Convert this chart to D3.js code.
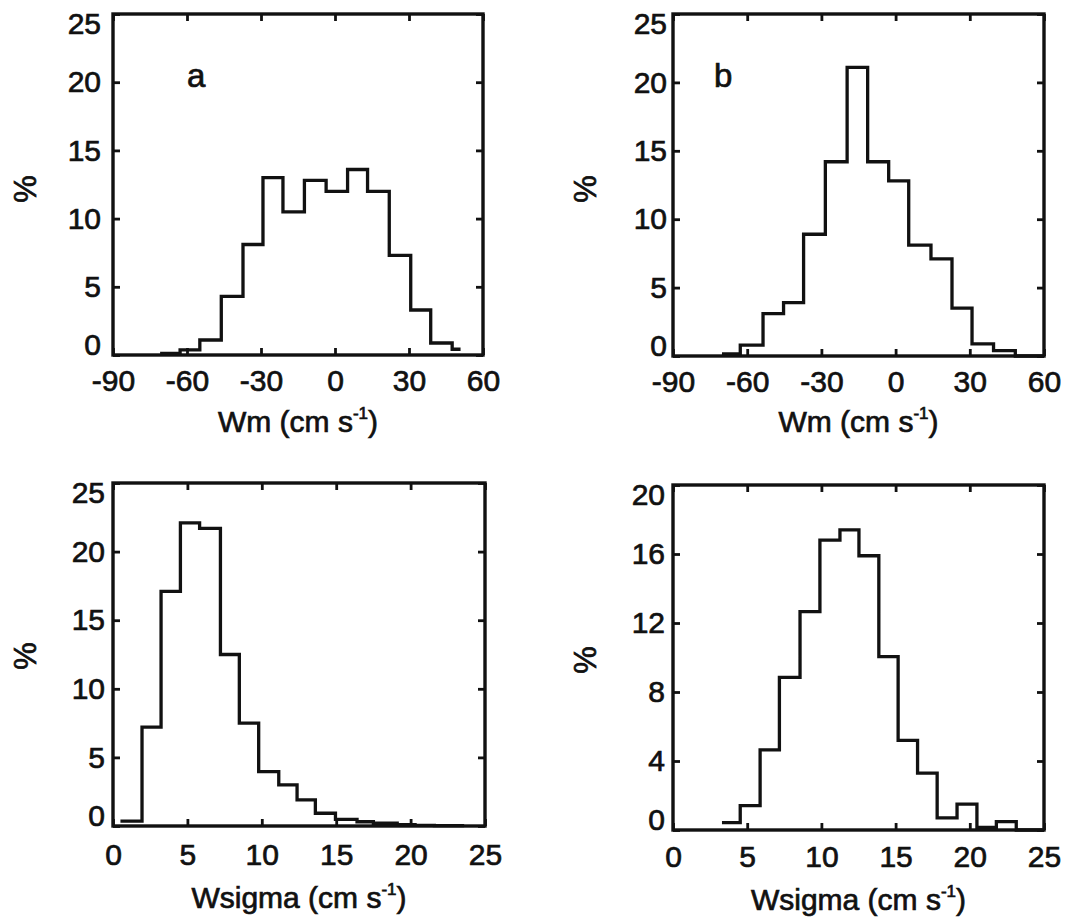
<!DOCTYPE html>
<html><head><meta charset="utf-8">
<script src="https://cdn.jsdelivr.net/npm/d3@7"></script>
<style>
body{margin:0;background:#fff}
svg{display:block}
text{font-family:"Liberation Sans",Arial,Helvetica,sans-serif;fill:#111;stroke:#111;stroke-width:0.7px}
</style>
</head><body>
<svg id="chart" width="1068" height="920"></svg>
<script>
// ---------- data ----------
const wmTicks = [-90, -60, -30, 0, 30, 60];
const wsTicks = [0, 5, 10, 15, 20, 25];
const pctTicks25 = [0, 5, 10, 15, 20, 25];
const pctTicks20 = [0, 4, 8, 12, 16, 20];

// panel a : Wm histogram (bin edges in cm/s, percentages)
const aEdges = [-70.9, -62.8, -54.8, -46.1, -37.3, -29.2, -21.1, -12.4, -3.6, 5.1, 13.2, 22.0, 30.7, 38.8, 47.5, 50.9];
const aPct   = [0.12, 0.37, 1.1, 4.3, 8.1, 13.0, 10.5, 12.8, 12.0, 13.6, 12.0, 7.3, 3.3, 0.88, 0.42];

// panel b : Wm histogram
const bEdges = [-70.2, -62.8, -53.6, -45.3, -37.2, -28.4, -19.6, -11.3, -2.8, 5.3, 14.3, 22.8, 30.9, 39.6, 48.4, 60];
const bPct   = [0.15, 0.8, 3.1, 3.9, 8.9, 14.2, 21.1, 14.2, 12.8, 8.1, 7.1, 3.5, 0.88, 0.39, 0];

// panel c : Wsigma histogram
const cEdges = [0.5, 1.95, 3.23, 4.53, 5.82, 7.22, 8.49, 9.79, 11.14, 12.37, 13.6, 14.95, 16.4, 17.5, 19.1, 20.3, 21.6, 23.6];
const cPct   = [0.36, 7.2, 17.1, 22.1, 21.7, 12.5, 7.5, 3.97, 3.0, 1.9, 0.93, 0.49, 0.31, 0.2, 0.1, 0.05, 0.03];

// panel d : Wsigma histogram
const dEdges = [3.30, 4.53, 5.87, 7.17, 8.56, 9.90, 11.25, 12.53, 13.87, 15.17, 16.48, 17.8, 19.14, 20.48, 21.79, 23.13, 25];
const dPct   = [0.43, 1.41, 4.64, 8.85, 12.66, 16.8, 17.4, 15.9, 10.05, 5.2, 3.3, 0.7, 1.5, 0.15, 0.48, 0];

const panelLetters = ["a", "b", "", ""];
const xTitles = ["Wm", "Wm", "Wsigma", "Wsigma"];
const yTitle = "%";

// ---------- layout ----------
const svg = d3.select("#chart");
const FONT = 30;

const panels = [
  {edges: aEdges, pct: aPct, xDom: [-90, 60], xT: wmTicks, yDom: [0, 25], yT: pctTicks25,
   box: {x0: 113, x1: 483, y0: 14, y1: 355}, yPad: 12, xPad: 15, letter: panelLetters[0], title: xTitles[0],
   letterPos: [187, 87], yLab: [25, 189], xLabY: 432},
  {edges: bEdges, pct: bPct, xDom: [-90, 60], xT: wmTicks, yDom: [0, 25], yT: pctTicks25,
   box: {x0: 673, x1: 1044, y0: 14, y1: 356}, yPad: 6, xPad: 15, letter: panelLetters[1], title: xTitles[1],
   letterPos: [714, 87], yLab: [585, 189], xLabY: 432},
  {edges: cEdges, pct: cPct, xDom: [0, 25], xT: wsTicks, yDom: [0, 25], yT: pctTicks25,
   box: {x0: 113, x1: 485, y0: 483, y1: 826}, yPad: 8, xPad: 18, letter: panelLetters[2], title: xTitles[2],
   letterPos: [0, 0], yLab: [25, 656], xLabY: 908},
  {edges: dEdges, pct: dPct, xDom: [0, 25], xT: wsTicks, yDom: [0, 20], yT: pctTicks20,
   box: {x0: 673, x1: 1044, y0: 485, y1: 830}, yPad: 8, xPad: 16, letter: panelLetters[3], title: xTitles[3],
   letterPos: [0, 0], yLab: [585, 660], xLabY: 910}
];

panels.forEach(p => {
  const b = p.box;
  const x = d3.scaleLinear().domain(p.xDom).range([b.x0, b.x1]);
  const y = d3.scaleLinear().domain(p.yDom).range([b.y1, b.y0]);
  const g = svg.append("g");

  const style = sel => {
    sel.select(".domain").remove();
    sel.selectAll(".tick line").attr("stroke", "#111").attr("stroke-width", 2.8);
    sel.selectAll(".tick text").attr("font-size", FONT).attr("fill", "#111");
  };

  // bottom axis (labels) + top axis (ticks only)
  g.append("g").attr("transform", `translate(0,${b.y1})`)
    .call(d3.axisBottom(x).tickValues(p.xT).tickSizeInner(-7).tickSizeOuter(0).tickPadding(p.xPad).tickFormat(d => String(d)))
    .call(style);
  g.append("g").attr("transform", `translate(0,${b.y0})`)
    .call(d3.axisTop(x).tickValues(p.xT).tickSizeInner(-7).tickSizeOuter(0).tickFormat(""))
    .call(style);
  // left axis (labels) + right axis (ticks only)
  const yl = g.append("g").attr("transform", `translate(${b.x0},0)`)
    .call(d3.axisLeft(y).tickValues(p.yT).tickSizeInner(-7).tickSizeOuter(0).tickPadding(p.yPad).tickFormat(d => String(d)))
    .call(style);
  // end labels sit slightly inside the frame, as in the reference
  yl.selectAll(".tick text").attr("transform", d =>
    d === p.yDom[0] ? "translate(0,-10)" : d === p.yDom[1] ? "translate(0,10)" : null);
  g.append("g").attr("transform", `translate(${b.x1},0)`)
    .call(d3.axisRight(y).tickValues(p.yT).tickSizeInner(-7).tickSizeOuter(0).tickFormat(""))
    .call(style);

  // histogram stairs
  const pts = p.pct.map((v, i) => [p.edges[i], v]);
  pts.push([p.edges[p.edges.length - 1], p.pct[p.pct.length - 1]]);
  const line = d3.line().x(d => x(d[0])).y(d => y(d[1])).curve(d3.curveStepAfter);
  g.append("path").attr("d", line(pts))
    .attr("fill", "none").attr("stroke", "#111").attr("stroke-width", 3.3)
    .attr("stroke-linejoin", "miter");

  // frame
  g.append("rect").attr("x", b.x0).attr("y", b.y0)
    .attr("width", b.x1 - b.x0).attr("height", b.y1 - b.y0)
    .attr("fill", "none").attr("stroke", "#111").attr("stroke-width", 3.4);

  // panel letter
  if (p.letter) {
    g.append("text").attr("x", p.letterPos[0]).attr("y", p.letterPos[1])
      .attr("font-size", 33).text(p.letter);
  }

  // y title
  g.append("text")
    .attr("transform", `translate(${p.yLab[0]},${p.yLab[1]}) rotate(-90)`)
    .attr("text-anchor", "middle").attr("dy", "0.35em")
    .attr("font-size", 31).text(yTitle);

  // x title with superscript
  const t = g.append("text").attr("x", (b.x0 + b.x1) / 2).attr("y", p.xLabY)
    .attr("text-anchor", "middle").attr("font-size", FONT);
  t.append("tspan").text(p.title + " (cm s");
  t.append("tspan").attr("font-size", 17).attr("dy", -13).text("-1");
  t.append("tspan").attr("dy", 13).text(")");
});
</script>
</body></html>
